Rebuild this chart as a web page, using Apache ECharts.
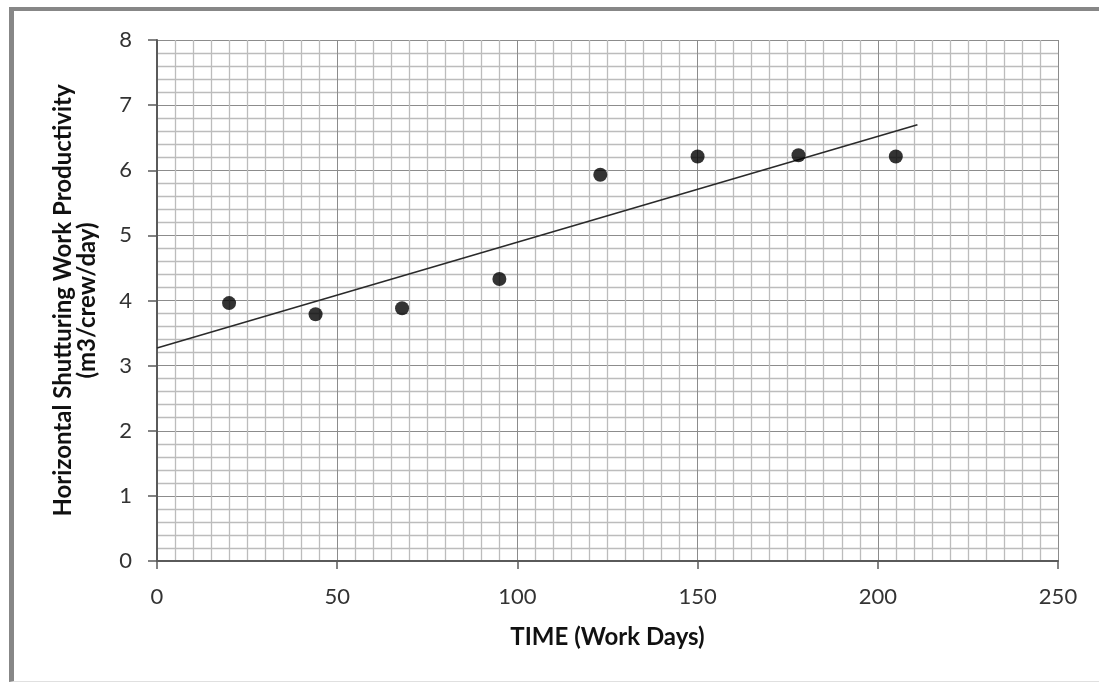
<!DOCTYPE html>
<html>
<head>
<meta charset="utf-8">
<script src="https://cdn.jsdelivr.net/npm/echarts@6/dist/echarts.min.js"></script>
<style>
html,body{margin:0;padding:0;background:#fff;width:1099px;height:683px;overflow:hidden;}
#frame{position:absolute;left:9px;top:7px;width:1090px;height:675px;border-top:4px solid #878787;border-left:5px solid #878787;border-bottom:1px solid #e0e0e0;box-sizing:border-box;}
#chart{position:absolute;left:0;top:0;width:1099px;height:683px;}
</style>
</head>
<body>
<div id="frame"></div>
<div id="chart"></div>
<script>
const workDays = [20, 44, 68, 95, 123, 150, 178, 205];
const productivity = [3.96, 3.79, 3.88, 4.33, 5.93, 6.21, 6.23, 6.21];
const trendDays = [0, 211];
const trendValues = [3.27, 6.70];
const xTicks = [0, 50, 100, 150, 200, 250];
const yTicks = [0, 1, 2, 3, 4, 5, 6, 7, 8];

const chart = echarts.init(document.getElementById('chart'), null, {renderer: 'canvas'});
const fontFam = 'Lato, "Open Sans", sans-serif';
chart.setOption({
  animation: false,
  backgroundColor: 'transparent',
  grid: {left: 157, right: 41, top: 40, bottom: 122, containLabel: false},
  xAxis: {
    type: 'value', min: xTicks[0], max: xTicks[xTicks.length - 1], interval: 50,
    name: 'TIME (Work Days)', nameLocation: 'middle', nameGap: 64,
    nameTextStyle: {fontFamily: fontFam, fontWeight: 'bold', fontSize: 24, color: '#111'},
    axisLine: {show: true, lineStyle: {color: '#5a5a5a', width: 2}},
    axisTick: {show: true, length: 8, lineStyle: {color: '#5a5a5a', width: 1.5}},
    axisLabel: {fontFamily: fontFam, fontSize: 22, color: '#333', margin: 25},
    splitLine: {show: true, lineStyle: {color: '#8c8c8c', width: 1}},
    minorTick: {show: false, splitNumber: 10},
    minorSplitLine: {show: true, lineStyle: {color: '#bcbcbc', width: 1.3}}
  },
  yAxis: {
    type: 'value', min: yTicks[0], max: yTicks[yTicks.length - 1], interval: 1,
    name: 'Horizontal Shutturing Work Productivity\n(m3/crew/day)', nameLocation: 'middle', nameGap: 58,
    nameTextStyle: {fontFamily: fontFam, fontWeight: 'bold', fontSize: 24, color: '#111', lineHeight: 24},
    axisLine: {show: true, lineStyle: {color: '#5a5a5a', width: 2}},
    axisTick: {show: true, length: 9, lineStyle: {color: '#5a5a5a', width: 1.5}},
    axisLabel: {fontFamily: fontFam, fontSize: 22, color: '#333', margin: 25},
    splitLine: {show: true, lineStyle: {color: '#8c8c8c', width: 1}},
    minorTick: {show: false, splitNumber: 5},
    minorSplitLine: {show: true, lineStyle: {color: '#bcbcbc', width: 1.3}}
  },
  series: [
    {
      type: 'line',
      data: trendDays.map((d, i) => [d, trendValues[i]]),
      showSymbol: false,
      lineStyle: {color: '#2a2a2a', width: 1.6},
      z: 3
    },
    {
      type: 'scatter',
      data: workDays.map((d, i) => [d, productivity[i]]),
      symbol: 'circle',
      symbolSize: 14,
      itemStyle: {color: '#000'},
      z: 4
    }
  ]
});
</script>
</body>
</html>
